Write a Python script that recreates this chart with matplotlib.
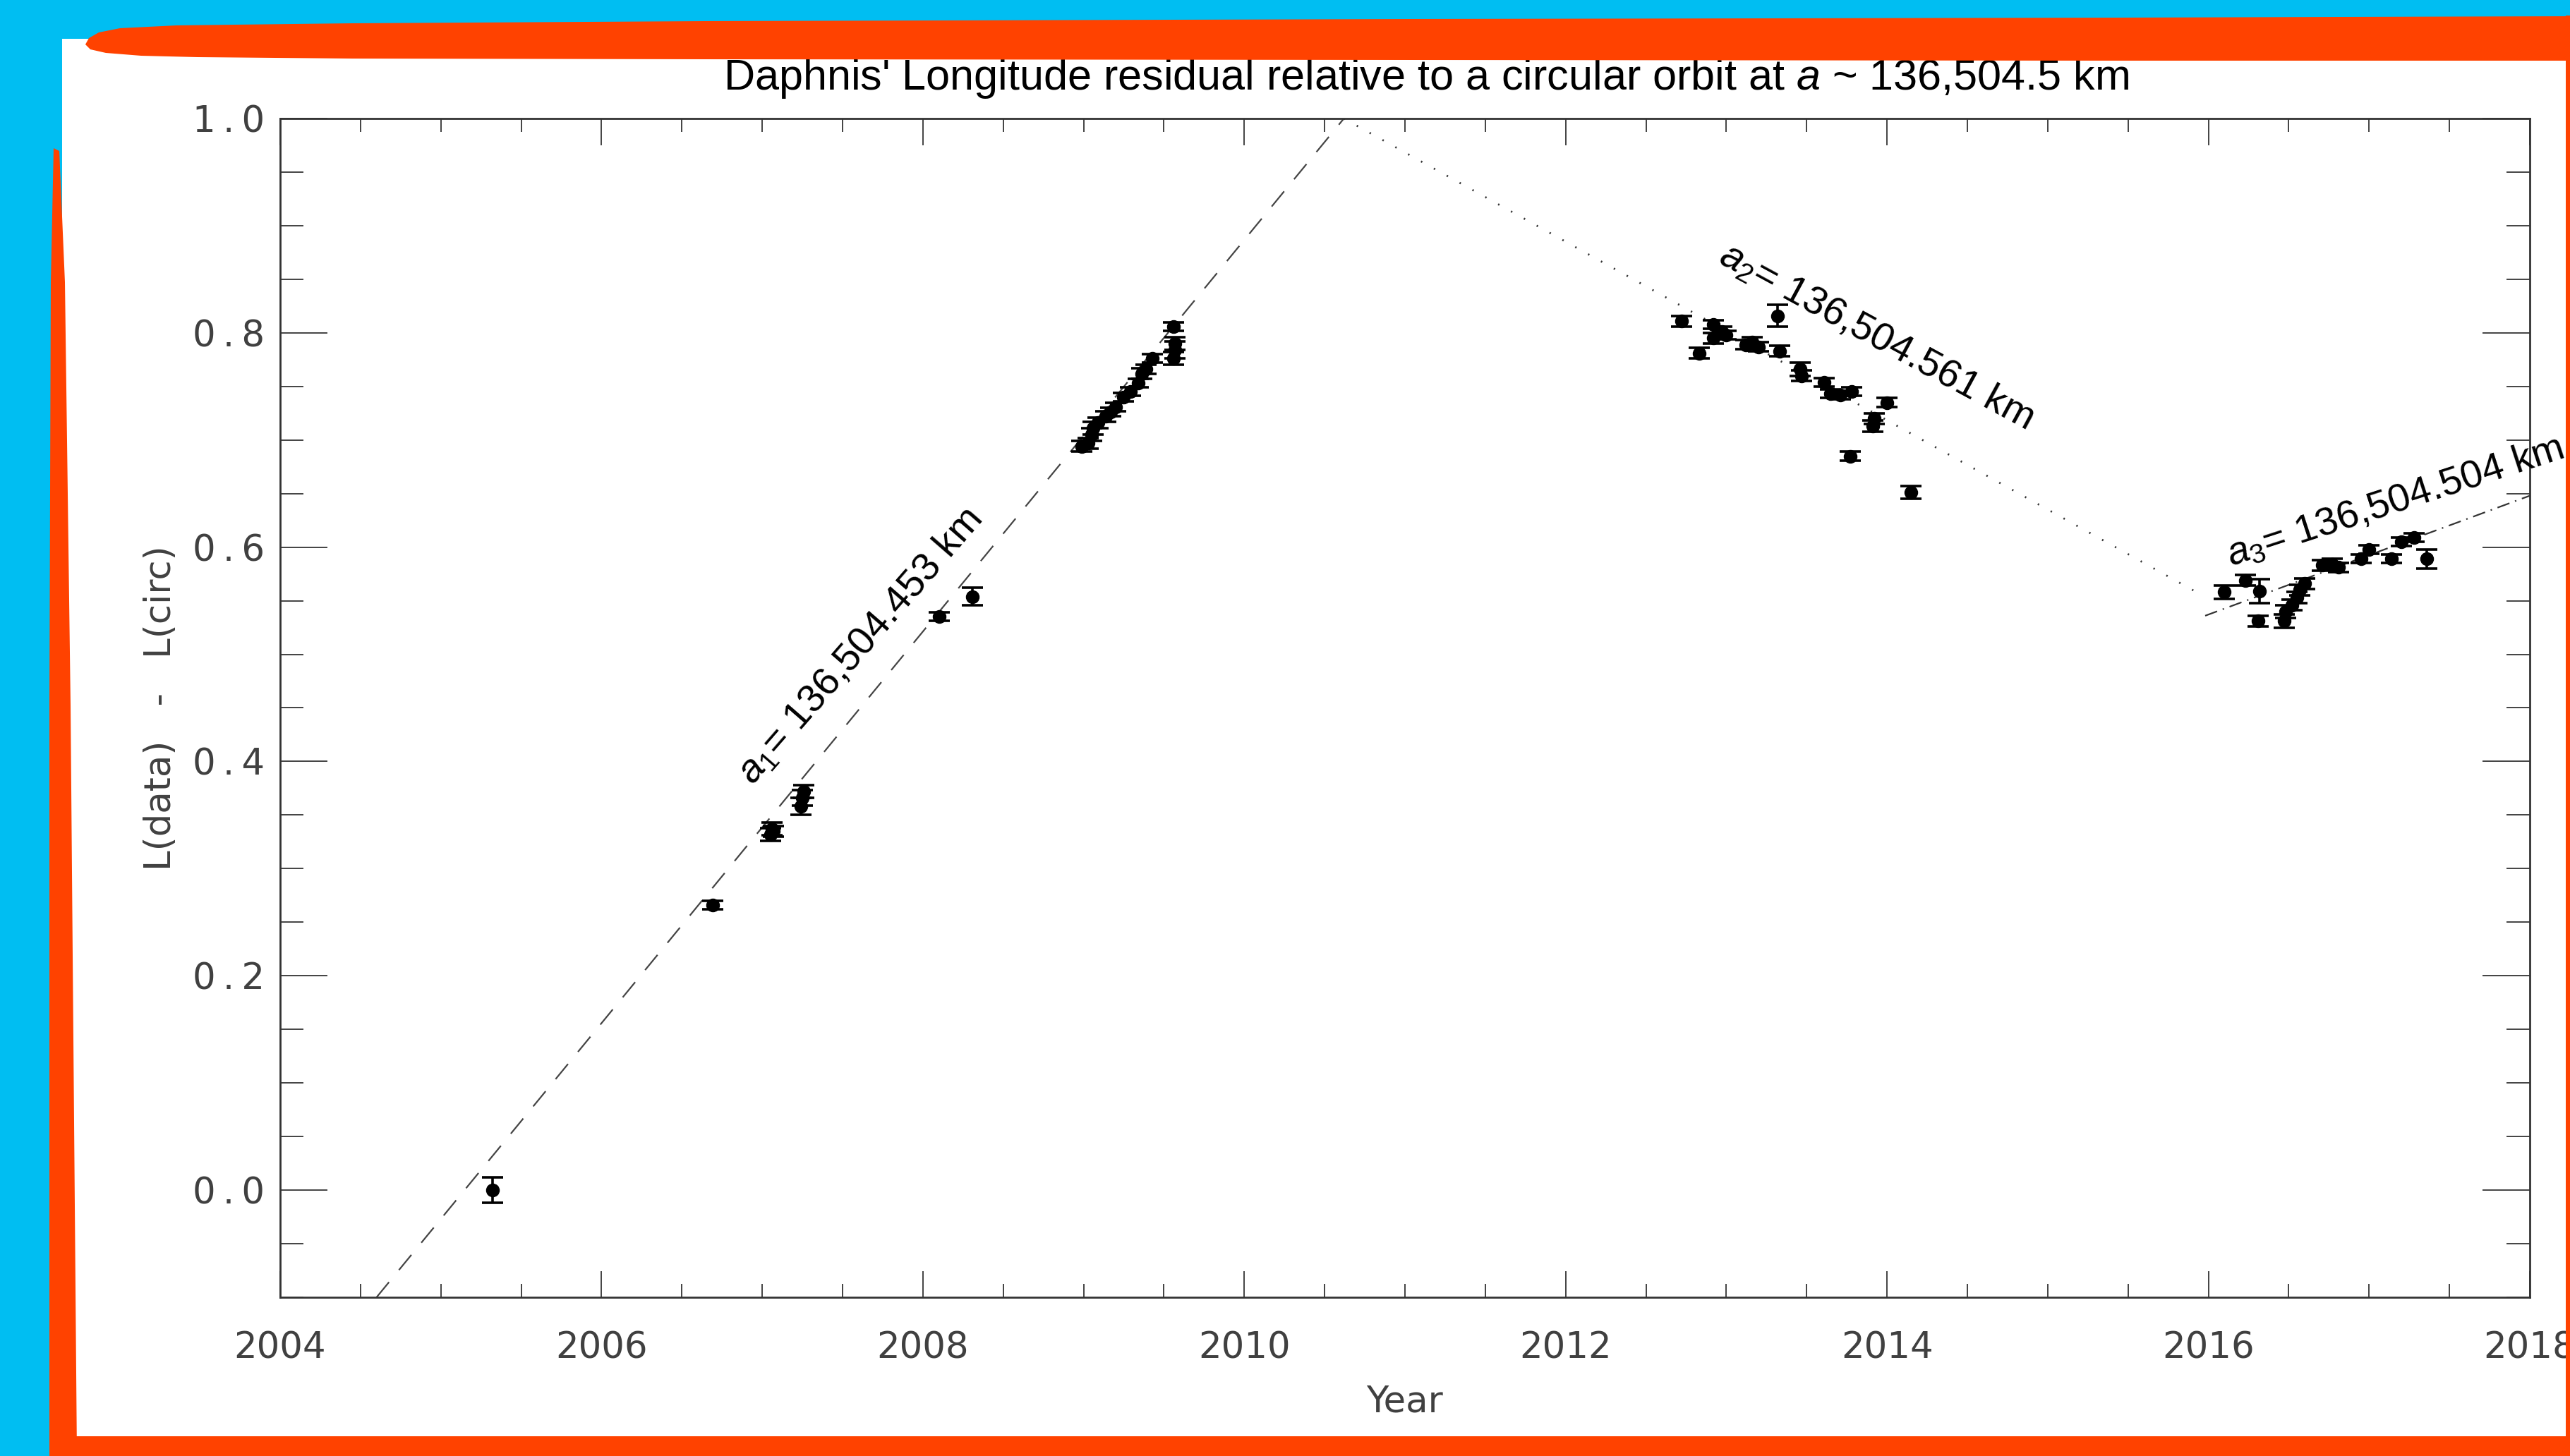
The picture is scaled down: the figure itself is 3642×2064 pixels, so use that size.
import numpy as np
import matplotlib
matplotlib.use("Agg")
import matplotlib.pyplot as plt
from matplotlib.patches import Rectangle, Polygon
from matplotlib.ticker import MultipleLocator

# --- measured longitude residuals (year, L(data) - L(circ), 1-sigma) ---
a1_year = [2005.32, 2006.69, 2007.05, 2007.06, 2007.07, 2007.24, 2007.25, 2007.26,
           2008.10, 2008.31,
           2008.99, 2009.03, 2009.05, 2009.06, 2009.09, 2009.14, 2009.17, 2009.20,
           2009.25, 2009.29, 2009.34, 2009.36, 2009.39, 2009.43, 2009.56, 2009.57,
           2009.57, 2009.56]
a1_val = [0.000, 0.266, 0.332, 0.337, 0.335, 0.358, 0.366, 0.372,
          0.535, 0.554,
          0.694, 0.697, 0.705, 0.711, 0.716, 0.722, 0.726, 0.731,
          0.740, 0.745, 0.753, 0.762, 0.766, 0.776, 0.776, 0.784,
          0.790, 0.806]
a1_err = [0.012, 0.004, 0.006, 0.006, 0.005, 0.008, 0.007, 0.006,
          0.004, 0.008,
          0.005, 0.005, 0.006, 0.006, 0.005, 0.005, 0.004, 0.004,
          0.004, 0.004, 0.004, 0.005, 0.004, 0.004, 0.006, 0.008,
          0.006, 0.004]

a2_year = [2012.72, 2012.83, 2012.92, 2012.92, 2012.97, 2013.00, 2013.12, 2013.16,
           2013.20, 2013.32, 2013.33, 2013.46, 2013.47, 2013.61, 2013.65, 2013.71,
           2013.78, 2013.77, 2013.91, 2013.92, 2014.00, 2014.15]
a2_val = [0.811, 0.781, 0.808, 0.795, 0.801, 0.798, 0.789, 0.791,
          0.787, 0.816, 0.783, 0.766, 0.760, 0.754, 0.743, 0.742,
          0.745, 0.685, 0.713, 0.720, 0.735, 0.651]
a2_err = [0.005, 0.005, 0.004, 0.005, 0.005, 0.004, 0.004, 0.005,
          0.004, 0.010, 0.005, 0.006, 0.005, 0.004, 0.004, 0.004,
          0.004, 0.004, 0.005, 0.005, 0.004, 0.006]

a3_year = [2016.10, 2016.23, 2016.32, 2016.31, 2016.47, 2016.48, 2016.52, 2016.55,
           2016.57, 2016.60, 2016.71, 2016.77, 2016.81, 2016.95, 2017.00, 2017.14,
           2017.20, 2017.28, 2017.36]
a3_val = [0.558, 0.569, 0.559, 0.531, 0.531, 0.540, 0.546, 0.553,
          0.560, 0.566, 0.583, 0.584, 0.581, 0.589, 0.598, 0.589,
          0.605, 0.609, 0.589]
a3_err = [0.006, 0.005, 0.011, 0.005, 0.006, 0.006, 0.005, 0.005,
          0.005, 0.005, 0.005, 0.005, 0.004, 0.004, 0.004, 0.004,
          0.004, 0.004, 0.009]

# --- circular-orbit drift lines for the three semi-major axes ---
fit1_x, fit1_y = [2004.60, 2010.62], [-0.10, 1.00]
fit2_x, fit2_y = [2010.62, 2015.95], [1.00, 0.556]
fit3_x, fit3_y = [2015.98, 2018.00], [0.536, 0.648]

fit_labels = [r"$a_\mathit{1}$= 136,504.453 km",
              r"$a_\mathit{2}$= 136,504.561 km",
              r"$a_\mathit{3}$= 136,504.504 km"]

title = r"Daphnis' Longitude residual relative to a circular orbit at $a$ ~ 136,504.5 km"

x_ticks = [2004, 2006, 2008, 2010, 2012, 2014, 2016, 2018]
y_ticks = [0.0, 0.2, 0.4, 0.6, 0.8, 1.0]

plt.rcParams["mathtext.fontset"] = "custom"
plt.rcParams["mathtext.rm"] = "Liberation Sans"
plt.rcParams["mathtext.it"] = "Liberation Sans:italic"
plt.rcParams["lines.scale_dashes"] = False

W, H = 3642, 2064
CYAN = "#00BEF2"
ORANGE = "#FF4200"
AXGRAY = "#404040"
THIN = "\u2009"

fig = plt.figure(figsize=(W / 100, H / 100), dpi=100)
fig.patch.set_facecolor(CYAN)

# white sheet behind the plot
bg = fig.add_axes([0, 0, 1, 1], zorder=0)
bg.set_xlim(0, W)
bg.set_ylim(H, 0)
bg.axis("off")
bg.add_patch(Rectangle((88, 55), 3637 - 88, 2037 - 55, color="white", lw=0))

ax = fig.add_axes([397 / W, 1 - 1839 / H, (3585 - 397) / W, (1839 - 168) / H], zorder=1)

err_kw = dict(fmt="o", color="k", ms=13, capsize=11, elinewidth=2.6, capthick=2.6, zorder=3)
ax.errorbar(a1_year, a1_val, yerr=a1_err, **err_kw)
ax.errorbar(a2_year, a2_val, yerr=a2_err, **err_kw)
ax.errorbar(a3_year, a3_val, yerr=a3_err, **err_kw)

ax.plot(fit1_x, fit1_y, color="#444444", lw=1.6, dashes=(20, 16))
ax.plot(fit2_x, fit2_y, color="#333333", lw=2.0, dashes=(1.5, 13.5))
ax.plot(fit3_x, fit3_y, color="#333333", lw=1.6, dashes=(13, 6, 1.5, 6))

lab_kw = dict(fontsize=40, family="Liberation Sans", color="k", rotation_mode="anchor",
              ha="left", va="baseline", clip_on=False, zorder=4)
ax.text(2006.94, 0.377, fit_labels[0], rotation=49, **lab_kw)
ax.text(2012.94, 0.866, fit_labels[1], rotation=-28.5, **lab_kw)
ax.text(2016.14, 0.582, fit_labels[2], rotation=18, **lab_kw)

ax.set_xlim(2004, 2018)
ax.set_ylim(-0.1, 1.0)
ax.set_xticks(x_ticks)
ax.set_xticklabels([str(t) for t in x_ticks])
ax.set_yticks(y_ticks)
ax.set_yticklabels([f"{t:.1f}".replace(".", THIN + "." + THIN) for t in y_ticks])
ax.xaxis.set_minor_locator(MultipleLocator(0.5))
ax.yaxis.set_minor_locator(MultipleLocator(0.05))

ax.tick_params(which="both", direction="in", top=True, right=True,
               color="#222222", width=1.2, labelsize=37, labelcolor=AXGRAY)
ax.tick_params(axis="x", which="major", length=27, pad=34)
ax.tick_params(axis="x", which="minor", length=14)
ax.tick_params(axis="y", which="major", length=48, pad=16)
ax.tick_params(axis="y", which="minor", length=24)
for s in ax.spines.values():
    s.set_linewidth(2.0)
    s.set_color("#333333")

ax.set_xlabel("Year", fontsize=37, color=AXGRAY)
ax.xaxis.set_label_coords(0.5, -0.0742)
ax.set_ylabel("L(data)   -   L(circ)", fontsize=37, color=AXGRAY)
ax.yaxis.set_label_coords(-0.0452, 0.5)

fig.text(2021 / W, 1 - 112 / H, title, ha="center", va="center",
         fontsize=44, family="Liberation Sans", color="k")

# orange brush frame over the sheet
fg = fig.add_axes([0, 0, 1, 1], zorder=5)
fg.set_xlim(0, W)
fg.set_ylim(H, 0)
fg.axis("off")
fg.patch.set_alpha(0)
blob = [(121, 63), (126, 54), (140, 46), (170, 40), (250, 36), (500, 33), (1000, 30),
        (2000, 27), (3000, 25), (3642, 23), (3642, 86), (3000, 86), (2000, 85),
        (1000, 84), (500, 83), (280, 81), (200, 79), (150, 75), (128, 70)]
fg.add_patch(Polygon(blob, closed=True, color=ORANGE, lw=0))
left = [(76, 210), (84, 214), (92, 400), (100, 1000), (109, 2064), (70, 2064),
        (70, 1000), (72, 400)]
fg.add_patch(Polygon(left, closed=True, color=ORANGE, lw=0))
fg.add_patch(Rectangle((70, 2036), W - 70, H - 2036, color=ORANGE, lw=0))
fg.add_patch(Rectangle((3636, 22), W - 3636, H - 22, color=ORANGE, lw=0))

fig.savefig("out.png", dpi=100, facecolor=fig.get_facecolor())
